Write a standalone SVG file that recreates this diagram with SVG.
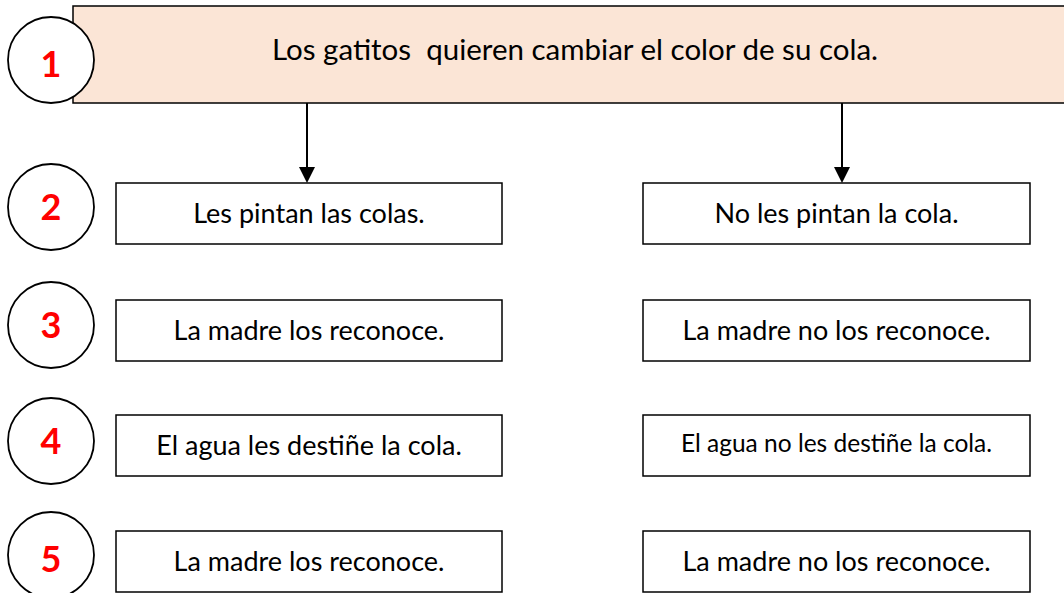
<svg xmlns="http://www.w3.org/2000/svg" width="1064" height="593" viewBox="0 0 1064 593">
<defs>
<style>
.box{fill:#fff;stroke:#000;stroke-width:1.5}
.circ{fill:#fff;stroke:#000;stroke-width:1.8}
.num{font-family:Lato,"Liberation Sans",sans-serif;font-weight:bold;font-size:36px;fill:#ff0000;text-anchor:middle}
.t{font-family:Lato,"Open Sans","Liberation Sans",sans-serif;font-size:27px;fill:#000;text-anchor:middle}
.ts{font-family:Lato,"Open Sans","Liberation Sans",sans-serif;font-size:24.5px;fill:#000;text-anchor:middle}
.conn{stroke:#000;stroke-width:2;fill:none}
</style>
</defs>
<rect width="1064" height="593" fill="#fff"/>
<g id="top">
<rect x="73" y="6" width="1000" height="97" fill="#fbe5d6" stroke="#000" stroke-width="1.5"/>
<text class="t" x="575" y="60" style="font-size:29.5px;white-space:pre" xml:space="preserve">Los gatitos  quieren cambiar el color de su cola.</text>
</g>
<g id="connectors">
<line class="conn" x1="307" y1="103" x2="307" y2="168"/>
<path d="M299,167 L315,167 L307,183 Z" fill="#000"/>
<line class="conn" x1="842" y1="103" x2="842" y2="168"/>
<path d="M834,167 L850,167 L842,183 Z" fill="#000"/>
</g>
<g id="c1"><circle class="circ" cx="51" cy="60" r="43"/><text class="num" x="51" y="77">1</text></g>
<g id="c2"><circle class="circ" cx="51" cy="207" r="43"/><text class="num" x="51" y="220">2</text></g>
<g id="c3"><circle class="circ" cx="51" cy="325" r="43"/><text class="num" x="51" y="338">3</text></g>
<g id="c4"><circle class="circ" cx="51" cy="441" r="43"/><text class="num" x="51" y="454">4</text></g>
<g id="c5"><circle class="circ" cx="51" cy="555" r="43"/><text class="num" x="51" y="572">5</text></g>
<g id="l2"><rect class="box" x="116" y="183" width="386" height="61"/><text class="t" x="309" y="223">Les pintan las colas.</text></g>
<g id="r2"><rect class="box" x="643" y="183" width="387" height="61"/><text class="t" x="836.5" y="223">No les pintan la cola.</text></g>
<g id="l3"><rect class="box" x="116" y="300" width="386" height="61"/><text class="t" x="309" y="340">La madre los reconoce.</text></g>
<g id="r3"><rect class="box" x="643" y="300" width="387" height="61"/><text class="t" x="836.5" y="340">La madre no los reconoce.</text></g>
<g id="l4"><rect class="box" x="116" y="415" width="386" height="61"/><text class="t" x="309" y="455">El agua les destiñe la cola.</text></g>
<g id="r4"><rect class="box" x="643" y="415" width="387" height="61"/><text class="ts" x="836.5" y="452">El agua no les destiñe la cola.</text></g>
<g id="l5"><rect class="box" x="116" y="531" width="386" height="61"/><text class="t" x="309" y="571">La madre los reconoce.</text></g>
<g id="r5"><rect class="box" x="643" y="531" width="387" height="61"/><text class="t" x="836.5" y="571">La madre no los reconoce.</text></g>
</svg>
